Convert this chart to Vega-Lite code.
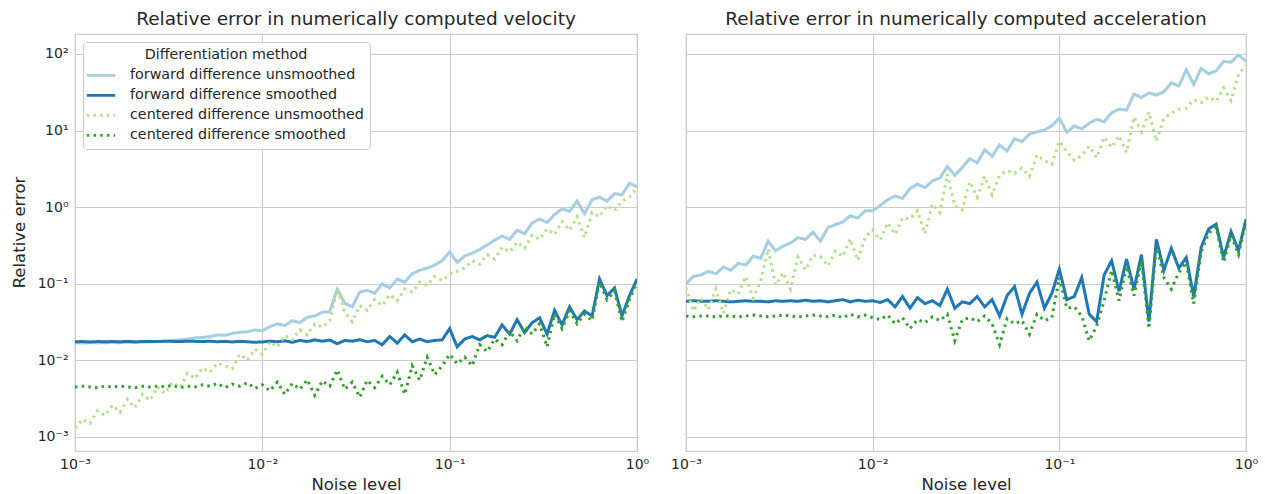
{
  "$schema": "https://vega.github.io/schema/vega-lite/v6.json",
  "autosize": {"type": "pad"},
  "padding": {"left": 10, "top": 8, "right": 8, "bottom": 2},
  "background": "white",
  "bounds": "flush",
  "spacing": 49,
  "config": {
    "font": "DejaVu Sans",
    "view": {"stroke": "#cccccc", "strokeWidth": 1.25},
    "axis": {"grid": true, "gridColor": "#cccccc", "gridWidth": 1, "domain": false, "ticks": false, "labelColor": "#262626", "labelFontSize": 14, "titleColor": "#262626", "titleFontSize": 16.5, "titleFontWeight": "normal", "labelFont": "DejaVu Sans", "titleFont": "DejaVu Sans"},
    "title": {"fontSize": 18.5, "fontWeight": "normal", "color": "#262626", "font": "DejaVu Sans", "offset": 6},
    "legend": {"labelFont": "DejaVu Sans", "titleFont": "DejaVu Sans"}
  },
  "datasets": {
    "vel": [
      {"x":0.001,"fu":0.0170,"fs":0.0175,"cu":0.0013,"cs":0.0045},
      {"x":0.0010965,"fu":0.0168,"fs":0.0176,"cu":0.0017,"cs":0.0046},
      {"x":0.0012023,"fu":0.0170,"fs":0.0174,"cu":0.0015,"cs":0.0045},
      {"x":0.0013183,"fu":0.0169,"fs":0.0176,"cu":0.0022,"cs":0.0044},
      {"x":0.0014454,"fu":0.0170,"fs":0.0175,"cu":0.0019,"cs":0.0046},
      {"x":0.0015849,"fu":0.0171,"fs":0.0176,"cu":0.0026,"cs":0.0045},
      {"x":0.0017378,"fu":0.0170,"fs":0.0175,"cu":0.0021,"cs":0.0046},
      {"x":0.0019055,"fu":0.0172,"fs":0.0177,"cu":0.0031,"cs":0.0045},
      {"x":0.0020893,"fu":0.0171,"fs":0.0175,"cu":0.0024,"cs":0.0044},
      {"x":0.0022909,"fu":0.0173,"fs":0.0176,"cu":0.0036,"cs":0.0046},
      {"x":0.0025119,"fu":0.0174,"fs":0.0177,"cu":0.0030,"cs":0.0045},
      {"x":0.0027542,"fu":0.0176,"fs":0.0176,"cu":0.0045,"cs":0.0046},
      {"x":0.0030200,"fu":0.0178,"fs":0.0178,"cu":0.0037,"cs":0.0045},
      {"x":0.0033113,"fu":0.0181,"fs":0.0177,"cu":0.0052,"cs":0.0047},
      {"x":0.0036308,"fu":0.0185,"fs":0.0176,"cu":0.0044,"cs":0.0044},
      {"x":0.0039811,"fu":0.0190,"fs":0.0178,"cu":0.0068,"cs":0.0046},
      {"x":0.0043652,"fu":0.0196,"fs":0.0177,"cu":0.0058,"cs":0.0045},
      {"x":0.0047863,"fu":0.0199,"fs":0.0176,"cu":0.0080,"cs":0.0048},
      {"x":0.0052481,"fu":0.0204,"fs":0.0178,"cu":0.0070,"cs":0.0046},
      {"x":0.0057544,"fu":0.0214,"fs":0.0175,"cu":0.0092,"cs":0.0050},
      {"x":0.0063096,"fu":0.0212,"fs":0.0177,"cu":0.0085,"cs":0.0044},
      {"x":0.0069183,"fu":0.0225,"fs":0.0174,"cu":0.0078,"cs":0.0049},
      {"x":0.0075858,"fu":0.0232,"fs":0.0177,"cu":0.0120,"cs":0.0046},
      {"x":0.0083176,"fu":0.0236,"fs":0.0175,"cu":0.0100,"cs":0.0051},
      {"x":0.0091201,"fu":0.0250,"fs":0.0172,"cu":0.0140,"cs":0.0043},
      {"x":0.01,"fu":0.0243,"fs":0.0174,"cu":0.0120,"cs":0.0048},
      {"x":0.010965,"fu":0.0275,"fs":0.0178,"cu":0.0175,"cs":0.0040},
      {"x":0.012023,"fu":0.0300,"fs":0.0175,"cu":0.0150,"cs":0.0052},
      {"x":0.013183,"fu":0.0285,"fs":0.0180,"cu":0.0210,"cs":0.0036},
      {"x":0.014454,"fu":0.0330,"fs":0.0172,"cu":0.0185,"cs":0.0050},
      {"x":0.015849,"fu":0.0310,"fs":0.0182,"cu":0.0250,"cs":0.0042},
      {"x":0.017378,"fu":0.0365,"fs":0.0176,"cu":0.0215,"cs":0.0056},
      {"x":0.019055,"fu":0.0380,"fs":0.0185,"cu":0.0300,"cs":0.0035},
      {"x":0.020893,"fu":0.0425,"fs":0.0178,"cu":0.0270,"cs":0.0054},
      {"x":0.022909,"fu":0.0430,"fs":0.0184,"cu":0.0330,"cs":0.0046},
      {"x":0.025119,"fu":0.0850,"fs":0.0165,"cu":0.0850,"cs":0.0075},
      {"x":0.027542,"fu":0.0560,"fs":0.0182,"cu":0.0420,"cs":0.0042},
      {"x":0.030200,"fu":0.0500,"fs":0.0178,"cu":0.0320,"cs":0.0052},
      {"x":0.033113,"fu":0.0780,"fs":0.0186,"cu":0.0520,"cs":0.0033},
      {"x":0.036308,"fu":0.0820,"fs":0.0175,"cu":0.0450,"cs":0.0055},
      {"x":0.039811,"fu":0.0750,"fs":0.0182,"cu":0.0620,"cs":0.0044},
      {"x":0.043652,"fu":0.1000,"fs":0.0160,"cu":0.0520,"cs":0.0062},
      {"x":0.047863,"fu":0.0880,"fs":0.0205,"cu":0.0720,"cs":0.0048},
      {"x":0.052481,"fu":0.1150,"fs":0.0168,"cu":0.0600,"cs":0.0070},
      {"x":0.057544,"fu":0.1050,"fs":0.0215,"cu":0.0850,"cs":0.0036},
      {"x":0.063096,"fu":0.1350,"fs":0.0175,"cu":0.0780,"cs":0.0085},
      {"x":0.069183,"fu":0.1500,"fs":0.0190,"cu":0.1050,"cs":0.0055},
      {"x":0.075858,"fu":0.1600,"fs":0.0175,"cu":0.0950,"cs":0.0110},
      {"x":0.083176,"fu":0.1750,"fs":0.0182,"cu":0.1250,"cs":0.0065},
      {"x":0.091201,"fu":0.2000,"fs":0.0185,"cu":0.1100,"cs":0.0085},
      {"x":0.1,"fu":0.2600,"fs":0.0260,"cu":0.1350,"cs":0.0120},
      {"x":0.10965,"fu":0.1900,"fs":0.0150,"cu":0.1450,"cs":0.0090},
      {"x":0.12023,"fu":0.2300,"fs":0.0190,"cu":0.1600,"cs":0.0110},
      {"x":0.13183,"fu":0.2500,"fs":0.0205,"cu":0.2000,"cs":0.0085},
      {"x":0.14454,"fu":0.2800,"fs":0.0185,"cu":0.1800,"cs":0.0160},
      {"x":0.15849,"fu":0.3200,"fs":0.0210,"cu":0.2400,"cs":0.0130},
      {"x":0.17378,"fu":0.3700,"fs":0.0200,"cu":0.2100,"cs":0.0190},
      {"x":0.19055,"fu":0.4200,"fs":0.0290,"cu":0.3000,"cs":0.0160},
      {"x":0.20893,"fu":0.3800,"fs":0.0220,"cu":0.2600,"cs":0.0240},
      {"x":0.22909,"fu":0.5000,"fs":0.0340,"cu":0.3500,"cs":0.0180},
      {"x":0.25119,"fu":0.4500,"fs":0.0230,"cu":0.2900,"cs":0.0280},
      {"x":0.27542,"fu":0.6200,"fs":0.0310,"cu":0.4300,"cs":0.0220},
      {"x":0.30200,"fu":0.7000,"fs":0.0360,"cu":0.3800,"cs":0.0300},
      {"x":0.33113,"fu":0.6300,"fs":0.0220,"cu":0.5200,"cs":0.0150},
      {"x":0.36308,"fu":0.8000,"fs":0.0450,"cu":0.4400,"cs":0.0400},
      {"x":0.39811,"fu":0.9500,"fs":0.0290,"cu":0.6500,"cs":0.0260},
      {"x":0.43652,"fu":0.8800,"fs":0.0500,"cu":0.5000,"cs":0.0440},
      {"x":0.47863,"fu":1.2000,"fs":0.0340,"cu":0.7500,"cs":0.0300},
      {"x":0.52481,"fu":0.8200,"fs":0.0440,"cu":0.4000,"cs":0.0400},
      {"x":0.57544,"fu":1.2500,"fs":0.0380,"cu":0.8500,"cs":0.0330},
      {"x":0.63096,"fu":1.3500,"fs":0.1150,"cu":0.7500,"cs":0.1050},
      {"x":0.69183,"fu":1.2000,"fs":0.0700,"cu":1.0500,"cs":0.0620},
      {"x":0.75858,"fu":1.5000,"fs":0.0880,"cu":0.9000,"cs":0.0800},
      {"x":0.83176,"fu":1.4500,"fs":0.0380,"cu":1.2000,"cs":0.0320},
      {"x":0.91201,"fu":2.0500,"fs":0.0700,"cu":1.3500,"cs":0.0620},
      {"x":1,"fu":1.8500,"fs":0.1150,"cu":1.8000,"cs":0.1050}
    ],
    "acc": [
      {"x":0.001,"fu":0.100,"fs":0.059,"cu":0.089,"cs":0.038},
      {"x":0.0010965,"fu":0.125,"fs":0.060,"cu":0.044,"cs":0.037},
      {"x":0.0012023,"fu":0.130,"fs":0.059,"cu":0.065,"cs":0.038},
      {"x":0.0013183,"fu":0.145,"fs":0.059,"cu":0.046,"cs":0.038},
      {"x":0.0014454,"fu":0.135,"fs":0.060,"cu":0.085,"cs":0.037},
      {"x":0.0015849,"fu":0.165,"fs":0.059,"cu":0.041,"cs":0.038},
      {"x":0.0017378,"fu":0.150,"fs":0.058,"cu":0.084,"cs":0.038},
      {"x":0.0019055,"fu":0.185,"fs":0.059,"cu":0.074,"cs":0.037},
      {"x":0.0020893,"fu":0.175,"fs":0.060,"cu":0.124,"cs":0.038},
      {"x":0.0022909,"fu":0.230,"fs":0.059,"cu":0.065,"cs":0.039},
      {"x":0.0025119,"fu":0.215,"fs":0.059,"cu":0.108,"cs":0.038},
      {"x":0.0027542,"fu":0.360,"fs":0.058,"cu":0.285,"cs":0.037},
      {"x":0.0030200,"fu":0.270,"fs":0.060,"cu":0.096,"cs":0.038},
      {"x":0.0033113,"fu":0.310,"fs":0.059,"cu":0.140,"cs":0.039},
      {"x":0.0036308,"fu":0.340,"fs":0.060,"cu":0.085,"cs":0.038},
      {"x":0.0039811,"fu":0.400,"fs":0.059,"cu":0.224,"cs":0.037},
      {"x":0.0043652,"fu":0.380,"fs":0.061,"cu":0.152,"cs":0.038},
      {"x":0.0047863,"fu":0.470,"fs":0.059,"cu":0.235,"cs":0.039},
      {"x":0.0052481,"fu":0.360,"fs":0.060,"cu":0.227,"cs":0.038},
      {"x":0.0057544,"fu":0.540,"fs":0.058,"cu":0.171,"cs":0.037},
      {"x":0.0063096,"fu":0.590,"fs":0.060,"cu":0.266,"cs":0.039},
      {"x":0.0069183,"fu":0.640,"fs":0.062,"cu":0.227,"cs":0.036},
      {"x":0.0075858,"fu":0.770,"fs":0.058,"cu":0.385,"cs":0.040},
      {"x":0.0083176,"fu":0.720,"fs":0.061,"cu":0.202,"cs":0.037},
      {"x":0.0091201,"fu":0.900,"fs":0.059,"cu":0.405,"cs":0.039},
      {"x":0.01,"fu":0.900,"fs":0.060,"cu":0.504,"cs":0.036},
      {"x":0.010965,"fu":1.05,"fs":0.057,"cu":0.373,"cs":0.034},
      {"x":0.012023,"fu":1.25,"fs":0.062,"cu":0.625,"cs":0.039},
      {"x":0.013183,"fu":1.40,"fs":0.050,"cu":0.442,"cs":0.030},
      {"x":0.014454,"fu":1.30,"fs":0.068,"cu":0.728,"cs":0.036},
      {"x":0.015849,"fu":1.75,"fs":0.048,"cu":0.700,"cs":0.026},
      {"x":0.017378,"fu":2.00,"fs":0.066,"cu":0.900,"cs":0.034},
      {"x":0.019055,"fu":1.80,"fs":0.055,"cu":0.450,"cs":0.031},
      {"x":0.020893,"fu":2.20,"fs":0.060,"cu":1.10,"cs":0.037},
      {"x":0.022909,"fu":2.40,"fs":0.052,"cu":0.850,"cs":0.033},
      {"x":0.025119,"fu":3.40,"fs":0.085,"cu":2.70,"cs":0.040},
      {"x":0.027542,"fu":2.60,"fs":0.048,"cu":1.04,"cs":0.018},
      {"x":0.030200,"fu":3.30,"fs":0.058,"cu":0.920,"cs":0.034},
      {"x":0.033113,"fu":4.30,"fs":0.055,"cu":2.15,"cs":0.036},
      {"x":0.036308,"fu":3.80,"fs":0.068,"cu":1.35,"cs":0.032},
      {"x":0.039811,"fu":5.60,"fs":0.050,"cu":2.52,"cs":0.038},
      {"x":0.043652,"fu":4.60,"fs":0.062,"cu":1.45,"cs":0.030},
      {"x":0.047863,"fu":6.50,"fs":0.038,"cu":2.60,"cs":0.016},
      {"x":0.052481,"fu":5.40,"fs":0.070,"cu":3.02,"cs":0.035},
      {"x":0.057544,"fu":7.80,"fs":0.092,"cu":2.77,"cs":0.030},
      {"x":0.063096,"fu":7.20,"fs":0.040,"cu":3.24,"cs":0.033},
      {"x":0.069183,"fu":9.00,"fs":0.075,"cu":2.52,"cs":0.022},
      {"x":0.075858,"fu":9.60,"fs":0.105,"cu":4.80,"cs":0.040},
      {"x":0.083176,"fu":10.2,"fs":0.048,"cu":4.08,"cs":0.033},
      {"x":0.091201,"fu":11.5,"fs":0.075,"cu":3.63,"cs":0.036},
      {"x":0.1,"fu":14.5,"fs":0.155,"cu":7.25,"cs":0.120},
      {"x":0.10965,"fu":9.5,"fs":0.062,"cu":5.32,"cs":0.048},
      {"x":0.12023,"fu":11.5,"fs":0.068,"cu":4.08,"cs":0.050},
      {"x":0.13183,"fu":10.5,"fs":0.120,"cu":4.73,"cs":0.038},
      {"x":0.14454,"fu":12.5,"fs":0.040,"cu":6.25,"cs":0.018},
      {"x":0.15849,"fu":14.0,"fs":0.032,"cu":4.42,"cs":0.028},
      {"x":0.17378,"fu":13.0,"fs":0.130,"cu":8.19,"cs":0.060},
      {"x":0.19055,"fu":17.0,"fs":0.200,"cu":6.04,"cs":0.150},
      {"x":0.20893,"fu":19.0,"fs":0.080,"cu":8.55,"cs":0.060},
      {"x":0.22909,"fu":18.5,"fs":0.210,"cu":5.18,"cs":0.170},
      {"x":0.25119,"fu":30.0,"fs":0.085,"cu":15.0,"cs":0.070},
      {"x":0.27542,"fu":27.0,"fs":0.240,"cu":9.6,"cs":0.200},
      {"x":0.30200,"fu":31.0,"fs":0.032,"cu":17.4,"cs":0.026},
      {"x":0.33113,"fu":29.0,"fs":0.380,"cu":7.25,"cs":0.320},
      {"x":0.36308,"fu":32.0,"fs":0.150,"cu":14.4,"cs":0.120},
      {"x":0.39811,"fu":42.0,"fs":0.290,"cu":16.8,"cs":0.085},
      {"x":0.43652,"fu":38.0,"fs":0.160,"cu":19.0,"cs":0.140},
      {"x":0.47863,"fu":62.0,"fs":0.220,"cu":19.6,"cs":0.190},
      {"x":0.52481,"fu":40.0,"fs":0.068,"cu":25.2,"cs":0.055},
      {"x":0.57544,"fu":65.0,"fs":0.300,"cu":23.1,"cs":0.260},
      {"x":0.63096,"fu":55.0,"fs":0.520,"cu":27.5,"cs":0.460},
      {"x":0.69183,"fu":60.0,"fs":0.600,"cu":24.0,"cs":0.550},
      {"x":0.75858,"fu":80.0,"fs":0.220,"cu":36.0,"cs":0.190},
      {"x":0.83176,"fu":78.0,"fs":0.480,"cu":24.6,"cs":0.430},
      {"x":0.91201,"fu":97.0,"fs":0.270,"cu":54.3,"cs":0.240},
      {"x":1,"fu":80.0,"fs":0.700,"cu":71.0,"cs":0.660}
    ]
  },
  "resolve": {"legend": {"color": "independent", "strokeDash": "independent"}},
  "hconcat": [
    {
      "width": 562,
      "height": 417,
      "title": "Relative error in numerically computed velocity",
      "data": {"name": "vel"},
      "transform": [{"fold": ["fu", "fs", "cu", "cs"], "as": ["method", "err"]}],
      "mark": {"type": "line", "strokeWidth": 3, "clip": true},
      "encoding": {
        "x": {"field": "x", "type": "quantitative",
          "scale": {"type": "log", "domain": [0.001, 1], "nice": false},
          "axis": {"values": [0.001, 0.01, 0.1, 1], "labelExpr": "datum.value < 0.005 ? '10⁻³' : datum.value < 0.05 ? '10⁻²' : datum.value < 0.5 ? '10⁻¹' : '10⁰'", "title": "Noise level", "labelPadding": 6, "titlePadding": 5, "labelFlush": false}},
        "y": {"field": "err", "type": "quantitative",
          "scale": {"type": "log", "domain": [0.000656, 182], "nice": false},
          "axis": {"values": [0.001, 0.01, 0.1, 1, 10, 100], "labelExpr": "datum.value < 0.005 ? '10⁻³' : datum.value < 0.05 ? '10⁻²' : datum.value < 0.5 ? '10⁻¹' : datum.value < 5 ? '10⁰' : datum.value < 50 ? '10¹' : '10²'", "title": "Relative error", "labelPadding": 7, "minExtent": 40, "maxExtent": 40, "titlePadding": 8, "titleY": 198}},
        "color": {"field": "method", "type": "nominal",
          "scale": {"domain": ["fu", "fs", "cu", "cs"], "range": ["#a6cee3", "#1f78b4", "#b2df8a", "#33a02c"]},
          "legend": {"title": "Differentiation method", "orient": "top-left", "offset": 8, "titleAnchor": "middle", "titleFontSize": 14.3, "titleFontWeight": "normal", "titleColor": "#262626", "titlePadding": 1, "labelFontSize": 14.3, "labelColor": "#262626", "symbolType": "M-1.35,0H1.35", "symbolSize": 441, "symbolStrokeWidth": 2.8, "fillColor": "white", "strokeColor": "#cccccc", "cornerRadius": 3, "padding": 6, "rowPadding": 0, "labelOffset": 17, "labelLimit": 400,
            "labelExpr": "datum.label == 'fu' ? 'forward difference unsmoothed' : datum.label == 'fs' ? 'forward difference smoothed' : datum.label == 'cu' ? 'centered difference unsmoothed' : 'centered difference smoothed'"}},
        "strokeDash": {"field": "method", "type": "nominal",
          "scale": {"domain": ["fu", "fs", "cu", "cs"], "range": [[1, 0], [1, 0], [2.5, 4.2], [2.5, 4.2]]},
          "legend": {"title": "Differentiation method", "orient": "top-left", "offset": 8, "titleAnchor": "middle", "titleFontSize": 14.3, "titleFontWeight": "normal", "titleColor": "#262626", "titlePadding": 1, "labelFontSize": 14.3, "labelColor": "#262626", "symbolType": "M-1.35,0H1.35", "symbolSize": 441, "symbolStrokeWidth": 2.8, "fillColor": "white", "strokeColor": "#cccccc", "cornerRadius": 3, "padding": 6, "rowPadding": 0, "labelOffset": 17, "labelLimit": 400,
            "labelExpr": "datum.label == 'fu' ? 'forward difference unsmoothed' : datum.label == 'fs' ? 'forward difference smoothed' : datum.label == 'cu' ? 'centered difference unsmoothed' : 'centered difference smoothed'"}}
      }
    },
    {
      "width": 560,
      "height": 417,
      "title": "Relative error in numerically computed acceleration",
      "data": {"name": "acc"},
      "transform": [{"fold": ["fu", "fs", "cu", "cs"], "as": ["method", "err"]}],
      "mark": {"type": "line", "strokeWidth": 3, "clip": true},
      "encoding": {
        "x": {"field": "x", "type": "quantitative",
          "scale": {"type": "log", "domain": [0.001, 1], "nice": false},
          "axis": {"values": [0.001, 0.01, 0.1, 1], "labelExpr": "datum.value < 0.005 ? '10⁻³' : datum.value < 0.05 ? '10⁻²' : datum.value < 0.5 ? '10⁻¹' : '10⁰'", "title": "Noise level", "labelPadding": 6, "titlePadding": 5, "labelFlush": false}},
        "y": {"field": "err", "type": "quantitative",
          "scale": {"type": "log", "domain": [0.000656, 182], "nice": false},
          "axis": {"values": [0.001, 0.01, 0.1, 1, 10, 100], "labels": false, "title": null, "minExtent": 0, "maxExtent": 0}},
        "color": {"field": "method", "type": "nominal",
          "scale": {"domain": ["fu", "fs", "cu", "cs"], "range": ["#a6cee3", "#1f78b4", "#b2df8a", "#33a02c"]},
          "legend": null},
        "strokeDash": {"field": "method", "type": "nominal",
          "scale": {"domain": ["fu", "fs", "cu", "cs"], "range": [[1, 0], [1, 0], [2.5, 4.2], [2.5, 4.2]]},
          "legend": null}
      }
    }
  ]
}
